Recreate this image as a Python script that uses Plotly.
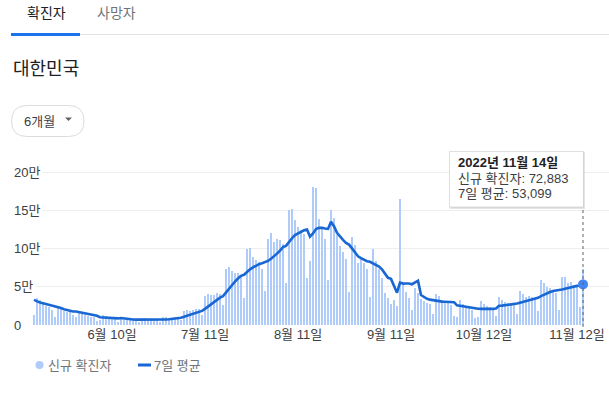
import pandas as pd
import plotly.graph_objects as go

# ---------------- data ----------------
start_date = "2022-05-15"
new_cases = [
    13296, 35906, 32451, 29581, 25125, 23956, 19298,
    9975, 23945, 23518, 18816, 17295, 17188, 12654,
    9896, 18672, 15797, 12542, 12046, 10060, 9830,
    5022, 6171, 13358, 12161, 9315, 7980, 7382,
    3828, 9434, 8813, 7995, 7206, 6068, 5570,
    3530, 9306, 9591, 7493, 7227, 6246, 6239,
    3423, 9896, 10463, 9595, 9528, 10715, 10059,
    6254, 18147, 19371, 18511, 19323, 20286, 20410,
    12693, 37360, 40266, 39196, 38882, 41310, 40342,
    26299, 73582, 76402, 71170, 68632, 68551, 65433,
    35883, 99327, 100285, 88384, 85285, 81994, 73589,
    44689, 111789, 119922, 107894, 112901, 110666, 105507,
    55292, 149897, 151792, 137241, 128714, 124592, 119603,
    62078, 84128, 180803, 178574, 138812, 125000, 113000,
    59046, 150258, 139339, 118000, 103000, 96000, 86000,
    43142, 115556, 103961, 81573, 86000, 81000, 73000,
    37000, 99837, 84000, 73000, 61000, 42000, 35000,
    27000, 33000, 25000, 165000, 52000, 43000, 35000,
    20000, 48000, 42000, 34000, 32000, 29000, 27000,
    15000, 40000, 38000, 33000, 31000, 29000, 26000,
    12000, 11042, 33000, 28000, 25000, 23000, 20000,
    9000, 11000, 32000, 27000, 25000, 23000, 21000,
    12000, 36000, 33000, 30000, 29000, 28000, 26000,
    14000, 44000, 40000, 37000, 38000, 37000, 35000,
    18000, 59000, 55000, 50000, 48000, 46000, 42000,
    20000, 63000, 62472, 54766, 55973, 51842, 50006,
    23751, 72883,
]
# six days before the window (May 9-14), used only for the 7-day average
prior_cases = [49933, 43925, 35926, 32322, 29581, 25434]

x_tick_dates = ["2022-06-10", "2022-07-11", "2022-08-11", "2022-09-11", "2022-10-12", "2022-11-12"]
x_tick_labels = ["6월 10일", "7월 11일", "8월 11일", "9월 11일", "10월 12일", "11월 12일"]
y_tick_vals = [0, 50000, 100000, 150000, 200000]
y_tick_labels = ["0", "5만", "10만", "15만", "20만"]
tab_labels = ["확진자", "사망자"]
region_title = "대한민국"
period_label = "6개월"
legend_labels = ["신규 확진자", "7일 평균"]
tooltip_labels = ["신규 확진자", "7일 평균"]

# ---------------- derived ----------------
dates = pd.date_range(start_date, periods=len(new_cases), freq="D")
series = pd.Series(prior_cases + new_cases, dtype=float)
avg7 = series.rolling(7).mean().iloc[len(prior_cases):].round().astype(int).tolist()

# ---------------- styling / geometry ----------------
W, H = 609, 397
L, R, T, B = 12, 0, 160, 72
PW, PH = W - L - R, H - T - B
PLOT_BOTTOM = H - B

def px_x(p):
    return (p - L) / PW

def px_y(p):
    return (PLOT_BOTTOM - p) / PH

FONT = "Liberation Sans, Arial, Noto Sans CJK KR, sans-serif"
BAR_COLOR = "#aecbfa"
LINE_COLOR = "#1967d2"
DOT_COLOR = "#4285f4"
DARK = "#202124"
TEXT = "#3c4043"
GRAY = "#70757a"

px_per_day = 3.0
x_left = dates[0] - pd.Timedelta(days=(34 - L) / px_per_day)
x_right = dates[-1] + pd.Timedelta(days=(W - 583) / px_per_day)
y_top = 200000 * PH / (PLOT_BOTTOM - 172)

fig = go.Figure()
fig.add_trace(go.Bar(
    x=dates, y=new_cases, width=0.62 * 86400000,
    marker=dict(color=BAR_COLOR, line=dict(width=0)),
    showlegend=False, hoverinfo="skip",
))
fig.add_trace(go.Scatter(
    x=dates, y=avg7, mode="lines",
    line=dict(color=LINE_COLOR, width=2.6),
    showlegend=False, hoverinfo="skip",
))
fig.add_trace(go.Scatter(
    x=[dates[-1]], y=[avg7[-1]], mode="markers",
    marker=dict(color=DOT_COLOR, size=10, line=dict(width=0)),
    showlegend=False, hoverinfo="skip",
))

shapes = []
annotations = []

# tabs
shapes.append(dict(type="line", xref="paper", yref="paper",
                   x0=px_x(80), x1=px_x(W), y0=px_y(34.5), y1=px_y(34.5),
                   line=dict(color="#e3e3e3", width=1)))
shapes.append(dict(type="rect", xref="paper", yref="paper",
                   x0=px_x(11), x1=px_x(80), y0=px_y(36), y1=px_y(33),
                   fillcolor="#1a73e8", line=dict(width=0)))
annotations.append(dict(text=tab_labels[0], xref="paper", yref="paper",
                        x=px_x(25), y=px_y(13), xanchor="left", yanchor="middle",
                        showarrow=False, font=dict(size=14, color=DARK, family=FONT)))
annotations.append(dict(text=tab_labels[1], xref="paper", yref="paper",
                        x=px_x(95), y=px_y(13), xanchor="left", yanchor="middle",
                        showarrow=False, font=dict(size=14, color=GRAY, family=FONT)))
# title
annotations.append(dict(text=region_title, xref="paper", yref="paper",
                        x=px_x(11), y=px_y(69), xanchor="left", yanchor="middle",
                        showarrow=False, font=dict(size=18, color=DARK, family=FONT)))
# dropdown pill
x0p, x1p, y0p, y1p, r = 11.5, 84, 105.5, 136.5, 15.5
pill = (f"M {px_x(x0p + r)},{px_y(y0p)} L {px_x(x1p - r)},{px_y(y0p)} "
        f"Q {px_x(x1p)},{px_y(y0p)} {px_x(x1p)},{px_y((y0p + y1p) / 2)} "
        f"Q {px_x(x1p)},{px_y(y1p)} {px_x(x1p - r)},{px_y(y1p)} "
        f"L {px_x(x0p + r)},{px_y(y1p)} "
        f"Q {px_x(x0p)},{px_y(y1p)} {px_x(x0p)},{px_y((y0p + y1p) / 2)} "
        f"Q {px_x(x0p)},{px_y(y0p)} {px_x(x0p + r)},{px_y(y0p)} Z")
shapes.append(dict(type="path", xref="paper", yref="paper", path=pill,
                   fillcolor="white", line=dict(color="#dadce0", width=1)))
annotations.append(dict(text=period_label, xref="paper", yref="paper",
                        x=px_x(22), y=px_y(121), xanchor="left", yanchor="middle",
                        showarrow=False, font=dict(size=13, color=TEXT, family=FONT)))
tri = (f"M {px_x(65)},{px_y(117.5)} L {px_x(72)},{px_y(117.5)} "
       f"L {px_x(68.5)},{px_y(121)} Z")
shapes.append(dict(type="path", xref="paper", yref="paper", path=tri,
                   fillcolor="#5f6368", line=dict(width=0)))

# y tick labels (left aligned, white backing over grid)
for v, lab in zip(y_tick_vals, y_tick_labels):
    annotations.append(dict(text=lab, xref="paper", yref="y",
                            x=px_x(11), y=v, xanchor="left", yanchor="middle",
                            showarrow=False, bgcolor="white", borderpad=2,
                            font=dict(size=13, color=TEXT, family=FONT)))

# dotted guide to last point
shapes.append(dict(type="line", xref="x", yref="paper",
                   x0=dates[-1], x1=dates[-1], y0=px_y(327), y1=px_y(207),
                   line=dict(color="#5f6368", width=1, dash="dot")))

# tooltip box
shapes.append(dict(type="rect", xref="paper", yref="paper",
                   x0=px_x(450), x1=px_x(585), y0=px_y(209), y1=px_y(152),
                   fillcolor="rgba(0,0,0,0.10)", line=dict(width=0)))
shapes.append(dict(type="rect", xref="paper", yref="paper",
                   x0=px_x(449.5), x1=px_x(583.5), y0=px_y(207), y1=px_y(151.5),
                   fillcolor="white", line=dict(color="rgba(0,0,0,0.12)", width=1)))
last = dates[-1]
tip_lines = [
    (f"<b>{last.year}년 {last.month}월 {last.day}일</b>", 162, DARK),
    (f"{tooltip_labels[0]}: {new_cases[-1]:,}", 178, TEXT),
    (f"{tooltip_labels[1]}: {avg7[-1]:,}", 193, TEXT),
]
for txt, yy, col in tip_lines:
    annotations.append(dict(text=txt, xref="paper", yref="paper",
                            x=px_x(456), y=px_y(yy), xanchor="left", yanchor="middle",
                            showarrow=False, font=dict(size=13, color=col, family=FONT)))

# legend
shapes.append(dict(type="circle", xref="paper", yref="paper",
                   x0=px_x(35.5), x1=px_x(43.5), y0=px_y(369), y1=px_y(361),
                   fillcolor=BAR_COLOR, line=dict(width=0)))
annotations.append(dict(text=legend_labels[0], xref="paper", yref="paper",
                        x=px_x(46), y=px_y(365), xanchor="left", yanchor="middle",
                        showarrow=False, font=dict(size=13, color=GRAY, family=FONT)))
shapes.append(dict(type="line", xref="paper", yref="paper",
                   x0=px_x(138), x1=px_x(151), y0=px_y(365), y1=px_y(365),
                   line=dict(color=LINE_COLOR, width=3)))
annotations.append(dict(text=legend_labels[1], xref="paper", yref="paper",
                        x=px_x(152), y=px_y(365), xanchor="left", yanchor="middle",
                        showarrow=False, font=dict(size=13, color=GRAY, family=FONT)))

fig.update_layout(
    width=W, height=H,
    margin=dict(l=L, r=R, t=T, b=B, pad=0),
    paper_bgcolor="white", plot_bgcolor="white",
    bargap=0, hovermode=False,
    font=dict(family=FONT, size=13, color=TEXT),
    shapes=shapes, annotations=annotations,
    xaxis=dict(
        type="date", range=[x_left, x_right],
        tickvals=pd.to_datetime(x_tick_dates), ticktext=x_tick_labels,
        showgrid=False, zeroline=False, showline=False, ticks="",
        tickfont=dict(size=13, color=TEXT, family=FONT),
        fixedrange=True,
    ),
    yaxis=dict(
        range=[0, y_top], tickvals=y_tick_vals, showticklabels=False,
        showgrid=True, gridcolor="#eeeeee", gridwidth=1,
        zeroline=False, showline=False, ticks="", fixedrange=True,
    ),
)

fig.write_html(
    "out.html",
    config={"displayModeBar": False},
    post_script="document.body.style.margin='0';document.body.style.overflow='hidden';",
)
